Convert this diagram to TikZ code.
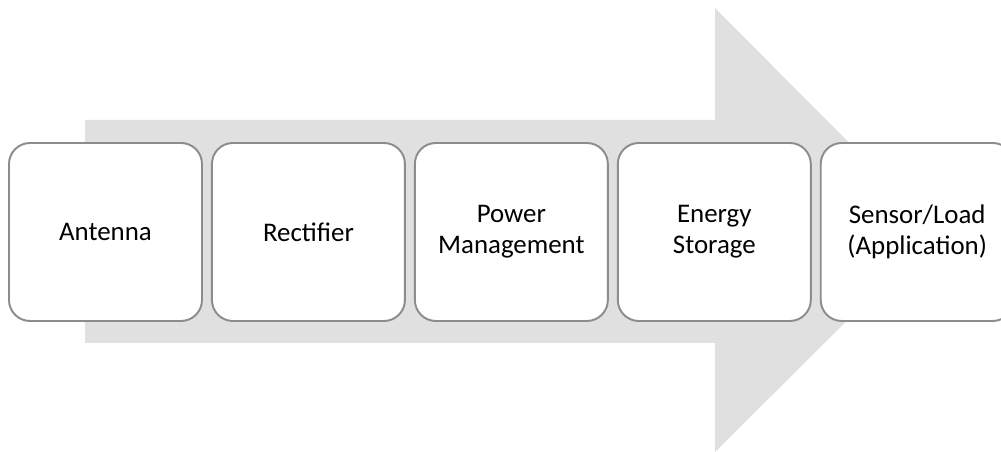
\documentclass[tikz,border=0pt]{standalone}
\usepackage{fontspec}
\setmainfont{Carlito}
\usetikzlibrary{positioning}
\definecolor{arrowgray}{RGB}{224,224,224}
\definecolor{boxgray}{RGB}{140,140,140}
\tikzset{
 flow/.style={node distance=0.16cm},
 stage/.style={rectangle,rounded corners=0.42cm,draw=boxgray,line width=1.1pt,
   fill=white,minimum width=3.86cm,minimum height=3.56cm,align=center,
   font=\fontsize{15.3}{17.8}\selectfont},
 bigarrow/.style={fill=arrowgray,draw=none}}

\begin{document}
\begin{tikzpicture}[flow]
      \useasboundingbox (0,0) rectangle (20.02,9.04);
      % background arrow
      \fill[bigarrow] (1.7,2.18) -- (14.3,2.18) -- (14.3,0) -- (18.74,4.42)
        -- (14.3,8.88) -- (14.3,6.64) -- (1.7,6.64) -- cycle;
      % stages
      \node[stage] (ant) at (2.11,4.4) {Antenna};
      \node[stage] (rect) [right =of ant] {Rectifier};
      \node[stage] (pm) [right =of rect] {Power\\Management};
      \node[stage] (es) [right =of pm] {Energy\\Storage};
      \node[stage] (load) [right =of es] {Sensor/Load\\(Application)};
\end{tikzpicture}
\end{document}
